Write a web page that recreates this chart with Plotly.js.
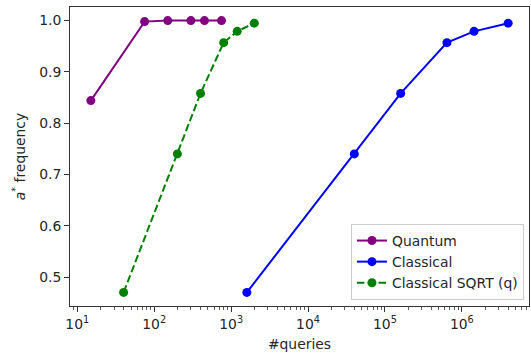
<!DOCTYPE html>
<html>
<head>
<meta charset="utf-8">
<script src="https://cdn.plot.ly/plotly-3.0.1.min.js"></script>
<style>html,body{margin:0;padding:0;background:#fff;} #chart{width:531px;height:358px;}</style>
</head>
<body>
<div id="chart"></div>
<script>
// Data
const quantumX = [15, 75, 150, 300, 450, 750];
const quantumY = [0.844, 0.998, 1.0, 1.0, 1.0, 1.0];
const classicalX = [1600, 40000, 160000, 640000, 1440000, 4000000];
const classicalY = [0.47, 0.74, 0.858, 0.957, 0.979, 0.995];
const sqrtX = [40, 200, 400, 800, 1200, 2000];
const sqrtY = [0.47, 0.74, 0.858, 0.957, 0.979, 0.995];
const xTickVals = [10, 100, 1000, 10000, 100000, 1000000];
const xTickText = ['10<sup>1</sup>', '10<sup>2</sup>', '10<sup>3</sup>', '10<sup>4</sup>', '10<sup>5</sup>', '10<sup>6</sup>'];
const yTickVals = [0.5, 0.6, 0.7, 0.8, 0.9, 1.0];

const minorVals = [];
for (let e = 0; e <= 7; e++) {
  for (let m = 2; m <= 9; m++) minorVals.push(m * Math.pow(10, e));
}

const font = {family: 'DejaVu Sans', size: 13.9, color: '#262626'};

const traces = [
  {x: quantumX, y: quantumY, name: 'Quantum', mode: 'lines+markers',
   line: {color: '#800080', width: 2}, marker: {color: '#800080', size: 9}},
  {x: classicalX, y: classicalY, name: 'Classical', mode: 'lines+markers',
   line: {color: '#0000ff', width: 2}, marker: {color: '#0000ff', size: 9}},
  {x: sqrtX, y: sqrtY, name: 'Classical SQRT (q)', mode: 'lines+markers',
   line: {color: '#008000', width: 2, dash: '7.5px,3.3px'}, marker: {color: '#008000', size: 9}}
];

const layout = {
  width: 531, height: 358,
  margin: {l: 70, r: 2, t: 7, b: 52},
  paper_bgcolor: '#fff', plot_bgcolor: '#fff',
  font: font,
  showlegend: true,
  xaxis: {
    type: 'log', range: [0.905, 6.873],
    tickvals: xTickVals, ticktext: xTickText,
    ticks: 'outside', ticklen: 5, tickwidth: 1, tickcolor: '#333',
    showline: true, linecolor: '#333', linewidth: 1, mirror: true,
    showgrid: false, zeroline: false,
    minor: {tickvals: minorVals, ticks: 'outside', ticklen: 3, tickwidth: 0.8, tickcolor: '#333', showgrid: false},
    title: {text: '#queries', font: font, standoff: 8},
    tickfont: font
  },
  yaxis: {
    range: [0.4435, 1.0265],
    tickvals: yTickVals, tickformat: '.1f',
    ticks: 'outside', ticklen: 5, tickwidth: 1, tickcolor: '#333',
    showline: true, linecolor: '#333', linewidth: 1, mirror: true,
    showgrid: false, zeroline: false,
    title: {text: '<i>a</i><sup>*</sup> frequency', font: font, standoff: 10},
    tickfont: font
  },
  legend: {
    x: 0.989, xanchor: 'right', y: 0.02, yanchor: 'bottom',
    bgcolor: 'rgba(255,255,255,0.8)', bordercolor: '#cccccc', borderwidth: 1,
    font: font, tracegroupgap: 0, itemwidth: 30
  }
};

Plotly.newPlot('chart', traces, layout, {displayModeBar: false, staticPlot: true});
</script>
</body>
</html>
